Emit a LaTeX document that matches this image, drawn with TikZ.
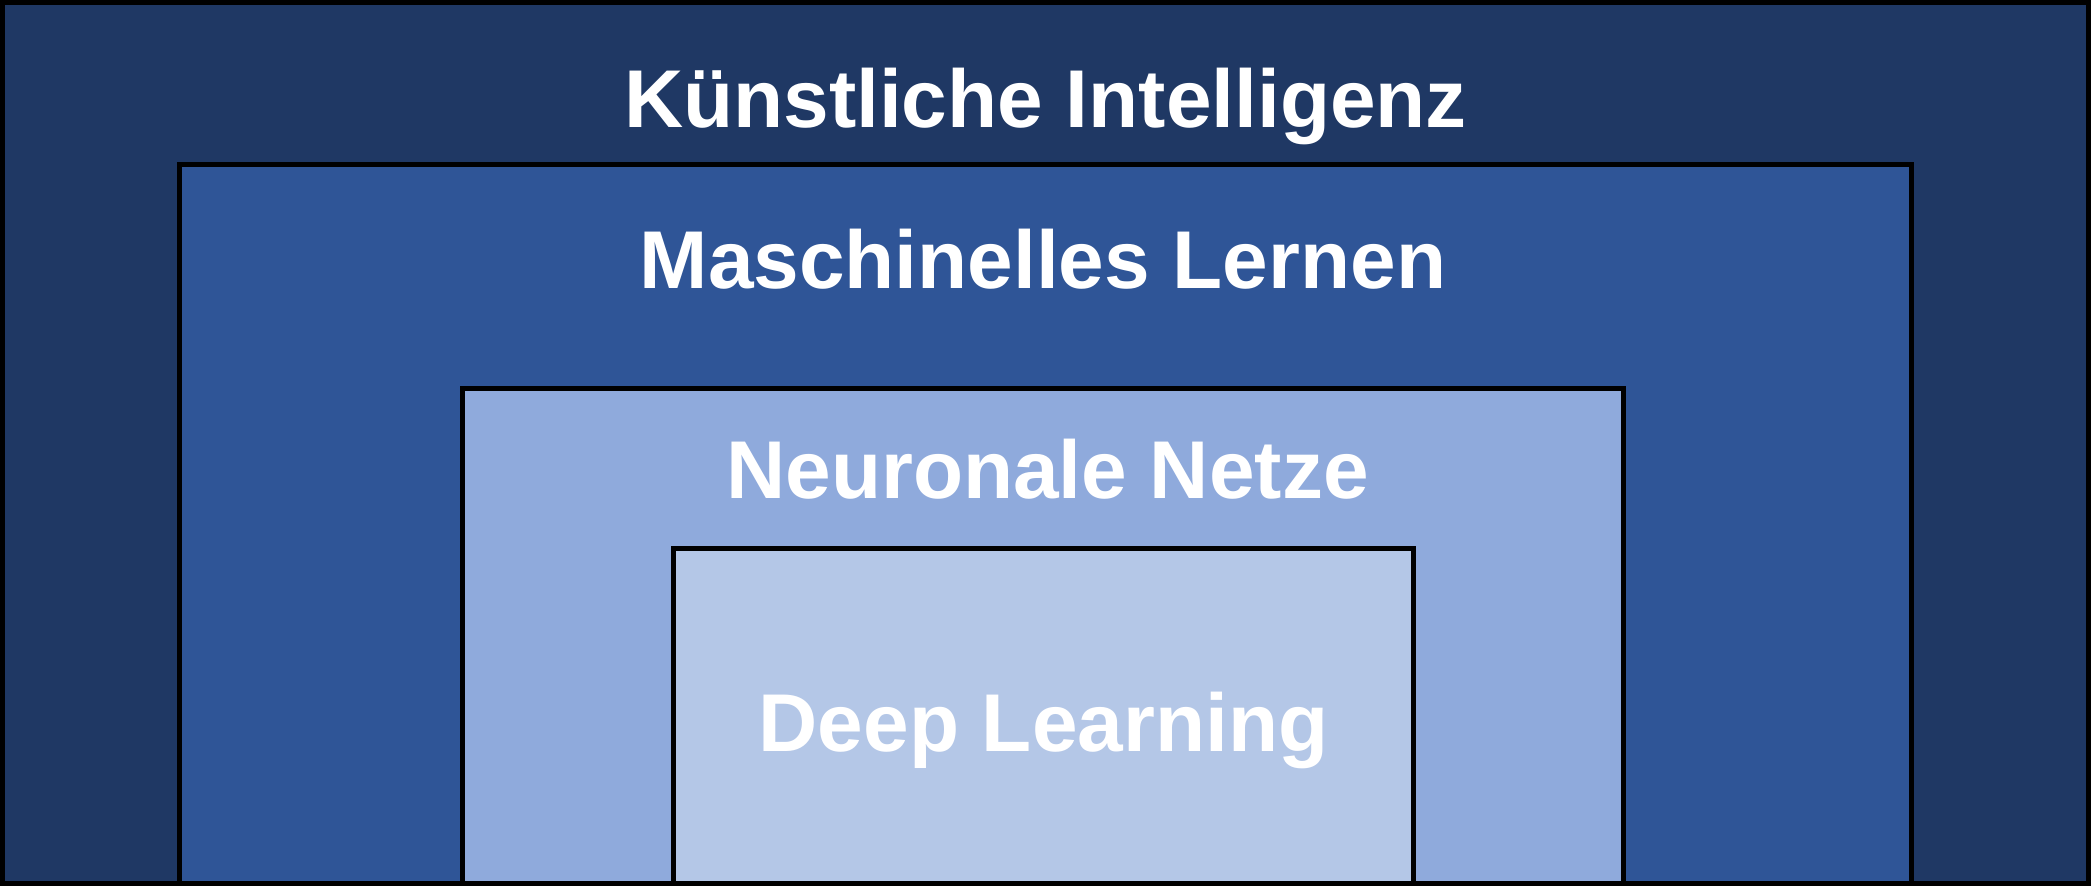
\documentclass[tikz,border=0pt]{standalone}
\usepackage{fontspec}
\setmainfont{Liberation Sans}
\definecolor{kiblue}{HTML}{1F3864}
\definecolor{mlblue}{HTML}{2F5597}
\definecolor{nnblue}{HTML}{8FAADC}
\definecolor{dlblue}{HTML}{B4C7E7}
\tikzset{
  layerbox/.style={draw=black, line width=5pt},
  layertext/.style={anchor=base, inner sep=0pt, text=white,
    font=\fontsize{82}{96}\selectfont\bfseries}
}
\begin{document}
\begin{tikzpicture}[x=1pt, y=-1pt]
\useasboundingbox (0,0) rectangle (2091,886);
% outer: Künstliche Intelligenz
\fill[kiblue] (0,0) rectangle (2091,886);
% Maschinelles Lernen
\path[layerbox, fill=mlblue] (179.5,886) -- (179.5,164.5) -- (1911.5,164.5) -- (1911.5,886);
% Neuronale Netze
\path[layerbox, fill=nnblue] (462.5,886) -- (462.5,388.5) -- (1623.5,388.5) -- (1623.5,886);
% Deep Learning
\path[layerbox, fill=dlblue] (673.5,886) -- (673.5,548.5) -- (1413.5,548.5) -- (1413.5,886);
% outer frame on top
\draw[layerbox] (2.5,2.5) rectangle (2088.5,883.5);
% labels
\node[layertext] (ki) at (1045.5,127) {Künstliche Intelligenz};
\node[layertext] (ml) at (1043,288) {Maschinelles Lernen};
\node[layertext] (nn) at (1047.5,498) {Neuronale Netze};
\node[layertext] (dl) at (1043.5,751) {Deep Learning};
\end{tikzpicture}
\end{document}
